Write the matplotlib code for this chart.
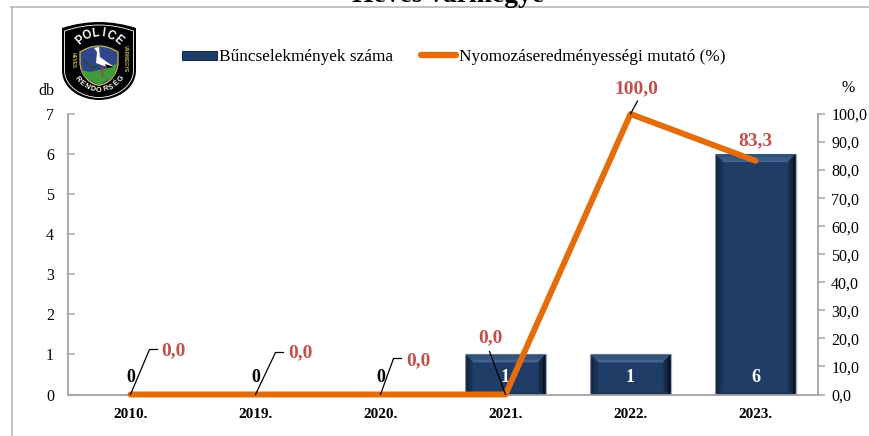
import numpy as np
import matplotlib
matplotlib.use('Agg')
import matplotlib.pyplot as plt
from matplotlib.colors import to_rgb
from matplotlib.lines import Line2D
from matplotlib.patches import PathPatch, Polygon, Rectangle
from matplotlib.path import Path

plt.rcParams['font.family'] = ['Liberation Serif', 'DejaVu Serif']

years = ['2010.', '2019.', '2020.', '2021.', '2022.', '2023.']
cases = [0, 0, 0, 1, 1, 6]
rate = [0.0, 0.0, 0.0, 0.0, 100.0, 83.3]
rate_labels = ['0,0', '0,0', '0,0', '0,0', '100,0', '83,3']
left_ticks = [0, 1, 2, 3, 4, 5, 6, 7]
right_ticks = [0, 10, 20, 30, 40, 50, 60, 70, 80, 90, 100]

W, H = 869, 436
AXIS = '#a6a6a6'
NAVY = '#1f3d67'
ORANGE = '#e46c0a'
RED = '#c0504d'

fig = plt.figure(figsize=(W / 100, H / 100), dpi=100)
ax = fig.add_axes([68 / W, 1 - 394.5 / H, 750 / W, 280.5 / H])
ax2 = ax.twinx()

x = np.arange(len(years))


def blend(c1, c2, t):
    a, b = np.array(to_rgb(c1)), np.array(to_rgb(c2))
    return tuple(a + (b - a) * t)


# bars with the bevel look, each side is a few strips going from edge colour to face colour
bars = ax.bar(x, cases, width=0.64, color=NAVY, edgecolor='#a3acb8', linewidth=0.9, zorder=2)
bx = 8 / 125
by = 8 / 40
steps = 6
for b in bars:
    h = b.get_height()
    if h == 0:
        continue
    x0, x1 = b.get_x(), b.get_x() + b.get_width()
    for k in range(steps):
        s0, s1 = k / steps, (k + 1) / steps
        t = s0
        ax.add_patch(Polygon([(x0 + bx * s0, h - by * s0), (x1 - bx * s0, h - by * s0), (x1 - bx * s1, h - by * s1), (x0 + bx * s1, h - by * s1)],
                             fc=blend('#2f5078', '#4a6c97', t), ec='none', zorder=3))
        ax.add_patch(Polygon([(x0 + bx * s0, by * s0 / 2), (x0 + bx * s0, h - by * s0), (x0 + bx * s1, h - by * s1), (x0 + bx * s1, by * s1 / 2)],
                             fc=blend('#0e1f36', NAVY, t), ec='none', zorder=3))
        ax.add_patch(Polygon([(x1 - bx * s0, by * s0 / 2), (x1 - bx * s0, h - by * s0), (x1 - bx * s1, h - by * s1), (x1 - bx * s1, by * s1 / 2)],
                             fc=blend('#050d18', NAVY, t), ec='none', zorder=3))
        ax.add_patch(Polygon([(x0 + bx * s0, by * s0 / 2), (x1 - bx * s0, by * s0 / 2), (x1 - bx * s1, by * s1 / 2), (x0 + bx * s1, by * s1 / 2)],
                             fc=blend('#14294a', '#2b4769', t), ec='none', zorder=3))

for i, v in enumerate(cases):
    ax.annotate(str(v), (i, 0), xytext=(0, 17), textcoords='offset pixels', ha='center', va='center',
                fontsize=13, fontweight='bold', color='black' if v == 0 else 'white', zorder=4)

ax.set_xlim(-0.5, 5.5)
ax.set_ylim(0, 7)
ax.set_yticks(left_ticks)
ax.set_xticks(x)
ax.set_xticklabels(years, fontsize=11, fontweight='bold')
ax.tick_params(axis='x', length=0, pad=9.5)
ax.tick_params(axis='y', direction='in', length=5, width=1.1, color=AXIS, labelsize=11.5, pad=10)

ax2.set_ylim(0, 100)
ax2.set_yticks(right_ticks)
ax2.set_yticklabels(['%d,0' % t for t in right_ticks])
ax2.tick_params(axis='y', direction='out', length=5, width=1.1, color=AXIS, labelsize=11.5, pad=4.5)

for a in (ax, ax2):
    a.spines['top'].set_visible(False)
    for s in ('left', 'right', 'bottom'):
        a.spines[s].set_color(AXIS)
        a.spines[s].set_linewidth(1.1)
ax.patch.set_visible(False)
ax2.patch.set_visible(False)

ax2.plot(x, rate, color=ORANGE, lw=4.3, solid_capstyle='round', solid_joinstyle='round', clip_on=False, zorder=3)

# rate labels, placed by hand like the original
label_offs = [(31, 44), (33, 42), (26, 34), (-15, 57), (6, 306), (0, 254)]
label_ha = ['left', 'left', 'left', 'center', 'center', 'center']
for i, t in enumerate(rate_labels):
    ax2.annotate(t, (i, 0), xytext=label_offs[i], textcoords='offset pixels', ha=label_ha[i], va='center',
                 fontsize=14, fontweight='bold', color=RED, zorder=6)

# leader lines
leaders = {0: [(0, 0), (19, 45), (27, 45)], 1: [(0, 0), (20, 42), (28, 42)], 2: [(0, 0), (13, 36), (21, 36)],
           3: [(0, 0), (-16, 43)], 4: [(0, 0), (7, 13)]}
for i, pts in leaders.items():
    px, py = ax2.transData.transform((i, rate[i]))
    xs = [(px + p[0]) / W for p in pts]
    ys = [(py + p[1]) / H for p in pts]
    fig.add_artist(Line2D(xs, ys, color='black', lw=0.9, zorder=6))

# legend by hand, the keys have different lengths
fig.add_artist(Rectangle((182 / W, 1 - 60.5 / H), 35 / W, 9 / H, transform=fig.transFigure, fc=NAVY, ec='#16304f', lw=0.8))
fig.text(219 / W, 1 - 61 / H, 'Bűncselekmények száma', fontsize=12.4, va='baseline')
fig.add_artist(Line2D([421 / W, 456 / W], [1 - 55.5 / H, 1 - 55.5 / H], color=ORANGE, lw=4.6, solid_capstyle='round'))
fig.text(459 / W, 1 - 61 / H, 'Nyomozáseredményességi mutató (%)', fontsize=12.4, va='baseline')

fig.text(46 / W, 1 - 91 / H, 'db', ha='center', va='center', fontsize=11.5)
fig.text(848 / W, 1 - 88 / H, '%', ha='center', va='center', fontsize=11.5)
fig.text(448 / W, 1 - 1.6 / H, 'Heves vármegye', ha='center', va='baseline', fontsize=19.8, fontweight='bold')

# frame around the chart, only top and left show
fig.add_artist(Line2D([11 / W, 1], [1 - 7 / H, 1 - 7 / H], color='#b4b4b4', lw=1.1))
fig.add_artist(Line2D([11.5 / W, 11.5 / W], [0, 1 - 7 / H], color='#b4b4b4', lw=1.1))

# police badge
lg = fig.add_axes([60 / W, 1 - 102 / H, 78 / W, 81 / H])
lg.set_xlim(60, 138)
lg.set_ylim(102, 21)
lg.axis('off')


def shield(cx, top, hw, sh, bot, **kw):
    verts = [(cx - hw, top + 6), (cx - hw * 0.5, top), (cx, top), (cx + hw * 0.5, top), (cx + hw, top + 6),
             (cx + hw, sh), (cx + hw, bot - 10), (cx + hw * 0.45, bot), (cx, bot),
             (cx - hw * 0.45, bot), (cx - hw, bot - 10), (cx - hw, sh), (cx - hw, top + 6)]
    codes = [Path.MOVETO, Path.CURVE3, Path.CURVE3, Path.CURVE3, Path.CURVE3, Path.LINETO, Path.CURVE4, Path.CURVE4, Path.CURVE4,
             Path.CURVE4, Path.CURVE4, Path.CURVE4, Path.CLOSEPOLY]
    lg.add_patch(PathPatch(Path(verts, codes), **kw))


shield(99, 22, 37, 70, 100, fc='black', ec='none')
shield(99, 25, 34.5, 70, 97.5, fc='none', ec='white', lw=0.6)
shield(99, 46, 19, 62, 85, fc='#33458a', ec='#c9b84a', lw=0.9)
lg.add_patch(Polygon([(81, 70), (90, 72), (108, 68), (117, 63), (114, 76), (99, 85), (86, 78)], fc='#3f9a3a', ec='none'))
lg.add_patch(Polygon([(94, 48), (99, 47), (100, 57), (114, 67), (104, 66), (96, 63), (97, 52)], fc='white', ec='none'))
lg.add_patch(Polygon([(105, 64), (114, 67), (107, 68)], fc='black', ec='none'))
lg.plot([102, 102], [66, 76], color='#b03040', lw=1)
lg.plot([84, 92, 98], [60, 68, 66], color='#254a28', lw=1.2)

for ch, ang in zip('POLICE', np.linspace(-40, 40, 6)):
    r = 29
    lx = 99 + r * np.sin(np.radians(ang))
    ly = 64 - r * 1.07 * np.cos(np.radians(ang))
    lg.text(lx, ly, ch, color='white', fontsize=8.3, fontweight='bold', family='Liberation Sans', ha='center', va='center', rotation=-ang)
for ch, ang in zip('RENDŐRSÉG', np.linspace(-52, 52, 9)):
    r = 28
    lx = 99 + r * np.sin(np.radians(ang))
    ly = 62 + r * np.cos(np.radians(ang))
    lg.text(lx, ly, ch, color='white', fontsize=5.3, fontweight='bold', family='Liberation Sans', ha='center', va='center', rotation=ang)
lg.text(73, 60, 'HEVES', color='#c9b84a', fontsize=3.4, fontweight='bold', family='Liberation Sans', rotation=-90, ha='center', va='center')
lg.text(125, 59, 'VÁRMEGYE', color='#c9b84a', fontsize=3.4, fontweight='bold', family='Liberation Sans', rotation=-90, ha='center', va='center')

fig.savefig('out.png', dpi=100)
